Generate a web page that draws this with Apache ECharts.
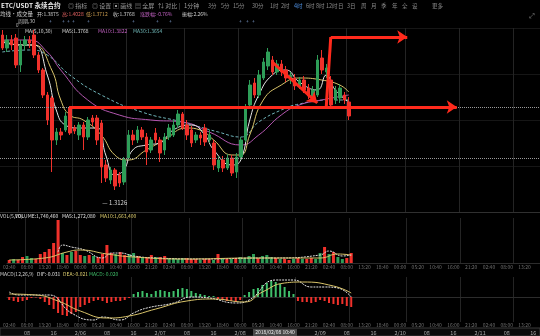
<!DOCTYPE html>
<html><head><meta charset="utf-8">
<script src="https://cdn.jsdelivr.net/npm/echarts/dist/echarts.min.js"></script>
<style>html,body{margin:0;padding:0;background:#000}#c{width:540px;height:336px}</style>
</head><body><div id="c"></div>
<script>
// ---- data ----
// candles: [open, close, low, high]
const candles = [
[177,164,162,182],[164,172,160,177],[172,167,162,177],[174,147,144,178],[147,167,140,172],
[167,172,162,176],[172,169,164,176],[177,157,154,182],[157,142,139,160],[142,117,114,144],
[117,92,87,120],[114,72,40,116],[72,80,67,84],[80,77,72,84],[82,96,80,100],
[104,79,77,106],[84,81,78,87],[77,87,72,90],[87,75,62,90],[75,92,72,95],
[94,90,86,97],[94,72,67,97],[89,45,29,92],[47,34,30,52],[32,42,28,45],
[42,26,22,44],[37,29,25,40],[30,52,27,55],[54,77,52,82],[77,72,67,82],
[72,82,69,86],[82,75,72,85],[75,60,47,79],[62,72,59,75],[79,72,69,84],
[72,59,50,75],[62,75,57,79],[75,84,72,88],[77,87,75,92],[87,98,84,102],
[98,84,82,100],[87,77,72,92],[82,69,65,86],[72,77,69,80],[77,74,67,80],
[84,70,66,88],[72,77,69,82],[69,47,42,72],[44,52,40,56],[52,44,40,56],
[44,54,42,58],[54,39,36,57],[40,55,34,59],[55,72,52,75],[72,104,70,108],
[107,127,104,132],[129,117,114,134],[117,137,114,142],[134,150,132,154],[146,160,142,164],
[152,140,137,156],[140,148,137,152],[148,140,136,152],[142,134,130,146],[132,137,128,140],
[134,126,122,138],[126,132,123,135],[132,122,119,136],[124,116,113,128],[116,122,112,126],
[117,152,115,157],[154,142,138,162],[140,144,134,148],[132,107,104,136],[112,122,108,126],
[114,124,109,128],[117,112,108,120],[110,96,92,115]
];
const volumes = [3,4,3,6,7,5,4,9,11,14, 20,43,10,8,11,12,8,7,8,7, 6,9,18,10,9,11,8,9,10,7,
 6,6,8,6,6,7,5,5,4,5, 5,4,4,3,4,4,3,9,5,4, 4,5,6,5,7,9,5,7,8,6, 5,4,4,3,4,5,4,4,5,4, 10,16,9,11,6,4,5,10];
const macdHist = [-3,-4,-5,-4,-3,-1,-0.5,-2,-5,-8, -12,-16,-18,-19,-17,-15,-10,-8,-6,-4,
 -3,-4,-6,-5,-4,-4,-3,-1,3,5, 6,4,3,6,7,6,5,6,8,9, 8,6,4,3,2,1,1,-2,-3,-4,
 -4,-5,-3,2,5,8,9,12,14,16, 15,13,10,6,3,-4,-5,-5,-6,-5, -3,-4,-6,-7,-8,-7,-9,-10];
// moving-average lines read as [categoryIndex, value]
const maWhite = [[0,170],[4,167],[7,167],[10,137],[12,102],[14,87],[17,84],[21,84],[23,57],[25,37],[27,42],[29,62],[32,67],[35,69],[38,82],[42,87],[45,77],[47,62],[51,47],[53,52],[55,92],[57,117],[60,137],[63,142],[66,130],[70,122],[72,137],[74,122],[77,110]];
const maYellow = [[0,172],[4,167],[7,167],[11,142],[13,112],[15,97],[18,92],[22,77],[25,57],[28,52],[32,62],[36,72],[41,84],[44,82],[47,72],[51,57],[53,57],[55,77],[58,112],[62,127],[66,134],[71,132],[75,127],[77,120]];
const maPurple = [[0,172],[6,172],[10,160],[13,142],[19,112],[26,97],[33,92],[40,90],[46,80],[53,67],[57,77],[62,97],[66,107],[71,112],[77,117]];
const maTeal = [[0,160],[6,162],[10,157],[15,137],[22,117],[31,100],[40,90],[48,80],[53,75],[57,90],[62,102],[66,108],[73,112],[77,112]];
const volMaWhite = [[11,11],[12,18],[14,16],[17,13],[21,5],[23,10],[25,10],[28,7],[33,5],[44,4],[57,5],[60,5],[70,8],[72,12],[75,7],[77,8]];
const volMaYellow = [[0,3],[8,5],[13,11],[16,13],[22,9],[28,6],[40,4],[55,5],[70,5],[74,9],[77,8]];
const difLine = [[0,5],[2,2],[7,2],[9,2],[14,-16],[19,-23],[21,-20],[25,-23],[28,-16],[31,-11],[37,-6],[41,0],[45,-1],[51,-6],[54,-3],[60,17],[64,17],[68,10],[71,10],[74,9],[77,0]];
const deaLine = [[0,3],[6,2],[11,-4],[16,-14],[22,-21],[27,-19],[33,-12],[40,-4],[46,-2],[53,-5],[57,5],[62,14],[66,15],[73,11],[77,4]];
// reference levels and drawn arrows (category index, price)
const levels = [105, 54];
const arrows = [[[15,105],[101,105]],[[60,150],[70,109]],[[73,175],[90,175]]];
const strokes = [[[72,105],[73,175]]];
const lowMark = {index: 25, price: 22, text: '— 1.3126'};
// tick labels
const midTicks = ['02:40','08:00','13:20','18:40','00:00','05:20','10:40','16:00','21:20','02:40','08:00','13:20','18:40','00:00','05:20','10:40','16:00','21:20','02:40','08:00','13:20','18:40','00:00','05:20','10:40','16:00','21:20','02:40','08:00','13:20'];
const bottomTicks = ['08','16','2/06','08','16','2/07','08','16','2/08','08','16','2/09','08','16','2/10','08','16','2/11','08','16'];
const NCAT = 120;
const categories = Array.from({length: NCAT}, (_, i) => 'k' + i);

// ---- chart ----
const UP = '#2e9e58', DOWN = '#f0312b';
const F = '"Noto Sans CJK SC","Noto Sans",sans-serif';
const gridIdx = [4,16,28,41,53,65,77,90,102,114];
const vSplit = {show: true, interval: (i) => gridIdx.indexOf(i) >= 0, lineStyle: {color: '#242424', width: 1}};
function T(x, y, text, fill, size, weight) {
  return {type: 'text', x: x, y: y, z: 100, style: {text: text, fill: fill, font: (weight || 'normal') + ' ' + (size || 6) + 'px ' + F, verticalAlign: 'middle', textVerticalAlign: 'middle', align: 'left'}};
}
const graphics = [
  {type: 'rect', z: -10, shape: {x: 0, y: 328, width: 540, height: 8}, style: {fill: '#0b0b0b', stroke: '#3a3a3a', lineWidth: 1}},
  T(1, 6, 'ETC/USDT 永续合约', '#ececec', 6.5, 'bold'),
  T(57, 6, 'P', '#9a9a9a', 6), T(68, 6, '◎ 指标', '#9a9a9a', 6), T(92, 6, '◎ 设置', '#9a9a9a', 6),
  T(113, 6, '▣ 画线', '#9a9a9a', 6), T(135, 6, '▤ 全屏', '#9a9a9a', 6), T(158, 6, '⇅ 对比', '#9a9a9a', 6),
  T(179, 6, '|', '#777', 6), T(184, 6, '1分钟', '#9a9a9a', 6),
  T(208, 6, '3分', '#8a8a8a', 5.5), T(221, 6, '5分', '#8a8a8a', 5.5), T(233, 6, '15分', '#8a8a8a', 5.5),
  T(252, 6, '30分', '#8a8a8a', 5.5), T(270, 6, '1时', '#8a8a8a', 5.5), T(281, 6, '2时', '#8a8a8a', 5.5),
  T(294, 6, '4时', '#4d8fe0', 5.5), T(306, 6, '6时', '#8a8a8a', 5.5), T(316, 6, '8时', '#8a8a8a', 5.5),
  T(326, 6, '12时', '#8a8a8a', 5.5), T(338, 6, '日', '#8a8a8a', 5.5), T(347, 6, '3日', '#8a8a8a', 5.5),
  T(361, 6, '周', '#8a8a8a', 5.5), T(371, 6, '月', '#8a8a8a', 5.5), T(381, 6, '季', '#8a8a8a', 5.5),
  T(392, 6, '年', '#8a8a8a', 5.5), T(402, 6, '全', '#8a8a8a', 5.5), T(412, 6, '设', '#8a8a8a', 5.5),
  T(432, 6, '更多', '#8a8a8a', 5.5), T(529, 15, '⤢', '#888', 7),
  T(0, 14, '均线·成交量', '#cfcfcf', 5.5), T(37, 14, '开:1.3875', '#cfcfcf', 5),
  T(62, 14, '高:1.4028', '#e06060', 5), T(86, 14, '低:1.3712', '#d0a050', 5),
  T(113, 14, '收:1.3768', '#cfcfcf', 5), T(140, 14, '涨跌幅:-0.76%', '#c060c0', 5),
  T(182, 14, '振幅:2.26%', '#cfcfcf', 5),
  T(18, 21, '周期,30', '#bbbbbb', 5), T(16, 25.5, '0', '#bbbbbb', 4.5),
  T(49, 21, '+', '#7f9fd0', 5), T(62, 21, '+', '#7f9fd0', 5), T(67, 21, '+', '#7f9fd0', 5), T(72, 21, '+', '#7f9fd0', 5),
  T(87, 21, '+', '#7f9fd0', 5), T(132, 21, '+', '#7f9fd0', 5), T(156, 21, '+', '#7f9fd0', 5), T(169, 21, '+', '#7f9fd0', 5),
  T(239, 21, '+', '#7f9fd0', 5), T(246, 21, '+', '#7f9fd0', 5), T(252, 21, '+', '#7f9fd0', 5),
  T(25, 31, 'MA(5,10,30)', '#d8d8d8', 5), T(62, 31, 'MA5:1.3768', '#d8d8d8', 5),
  T(98, 31, 'MA10:1.3822', '#c060c0', 5), T(133, 31, 'MA30:1.3654', '#70b8b8', 5),
  T(0, 216, 'VOL(5,10)', '#cfcfcf', 5), T(15, 216, 'VOLUME:1,740,460', '#e0e0e0', 5),
  T(62, 216, 'MA5:1,272,080', '#e0e0e0', 5), T(100, 216, 'MA10:1,663,400', '#e0d070', 5),
  T(0, 274, 'MACD(12,26,9)', '#cfcfcf', 5), T(37, 274, 'DIF:-0.031', '#e0e0e0', 5),
  T(63, 274, 'DEA:-0.021', '#e0d070', 5), T(89, 274, 'MACD:-0.020', '#3fbf6a', 5),
  {type: 'rect', z: 100, shape: {x: 253, y: 329, width: 44, height: 7}, style: {fill: '#4a4a4a'}},
  {type: 'text', z: 101, x: 275, y: 332.5, style: {text: '2018/02/08 10:40', fill: '#f0f0f0', font: '5px ' + F, align: 'center', verticalAlign: 'middle', textVerticalAlign: 'middle'}}
];

const chart = echarts.init(document.getElementById('c'), null, {renderer: 'canvas'});
const hidden = {axisLine: {show: false}, axisTick: {show: false}, axisLabel: {show: false}};
const option = {
  backgroundColor: '#000',
  animation: false,
  graphic: graphics,
  grid: [
    {left: 0, right: 0, top: 28, height: 184},
    {left: 0, right: 0, top: 218, height: 45},
    {left: 0, right: 0, top: 277, height: 45}
  ],
  xAxis: [
    {type: 'category', gridIndex: 0, position: 'bottom', data: categories, boundaryGap: true, axisLine: {show: true, lineStyle: {color: '#303030'}}, axisTick: {show: false}, axisLabel: {show: false}, splitLine: vSplit},
    {type: 'category', gridIndex: 1, position: 'bottom', data: categories, boundaryGap: true, axisLine: {show: true, lineStyle: {color: '#2c2c2c'}}, axisTick: {show: false}, splitLine: vSplit,
     axisLabel: {show: true, interval: 3, margin: 2, fontSize: 5, color: '#6e6e6e', fontFamily: F, formatter: (v, i) => midTicks[i / 4] || ''}},
    {type: 'category', gridIndex: 2, position: 'bottom', offset: 0, data: categories, boundaryGap: true, axisLine: {show: true, lineStyle: {color: '#2c2c2c'}}, axisTick: {show: false}, splitLine: vSplit,
     axisLabel: {show: true, interval: 3, margin: 1, fontSize: 5, color: '#6e6e6e', fontFamily: F, formatter: (v, i) => midTicks[i / 4] || ''}},
    {type: 'category', gridIndex: 2, position: 'bottom', offset: 6, data: categories, boundaryGap: true, axisLine: {show: false}, axisTick: {show: false}, splitLine: {show: false},
     axisLabel: {show: true, interval: (i) => i % 6 === 4, margin: 2, fontSize: 5.5, color: '#a8a8a8', fontFamily: F, formatter: (v, i) => bottomTicks[(i - 4) / 6] || ''}}
  ],
  yAxis: [
    Object.assign({type: 'value', gridIndex: 0, min: 0, max: 184, interval: 46, splitLine: {show: true, lineStyle: {color: '#161616'}}}, hidden),
    Object.assign({type: 'value', gridIndex: 1, min: 0, max: 45, splitLine: {show: false}}, hidden),
    Object.assign({type: 'value', gridIndex: 2, min: -25, max: 20, splitLine: {show: false}}, hidden)
  ],
  series: [
    {type: 'line', xAxisIndex: 0, yAxisIndex: 0, data: maTeal, showSymbol: false, smooth: true, lineStyle: {color: '#6fb3b8', width: 1, type: [3, 2]}, z: 3,
     markLine: {silent: true, symbol: 'none', label: {show: false}, lineStyle: {color: '#9a9a9a', type: 'dotted', width: 1}, data: levels.map(v => ({yAxis: v}))}},
    {type: 'line', xAxisIndex: 0, yAxisIndex: 0, data: maPurple, showSymbol: false, smooth: true, lineStyle: {color: '#b457b0', width: 1}, z: 3},
    {type: 'line', xAxisIndex: 0, yAxisIndex: 0, data: maYellow, showSymbol: false, smooth: true, lineStyle: {color: '#d9c46a', width: 1}, z: 3},
    {type: 'line', xAxisIndex: 0, yAxisIndex: 0, data: maWhite, showSymbol: false, smooth: true, lineStyle: {color: '#e6e6e6', width: 1}, z: 3},
    {type: 'candlestick', xAxisIndex: 0, yAxisIndex: 0, data: candles, barWidth: 3, z: 4,
     itemStyle: {color: UP, color0: DOWN, borderColor: UP, borderColor0: DOWN, borderWidth: 1},
     markLine: {silent: true, symbol: ['none', 'arrow'], symbolSize: 10, label: {show: false}, z: 10,
       lineStyle: {color: '#ff2a1c', width: 3, type: 'solid'},
       data: arrows.map(a => [{coord: a[0]}, {coord: a[1]}]).concat(
             strokes.map(a => [{coord: a[0], symbol: 'none'}, {coord: a[1], symbol: 'none'}]))},
     markPoint: {silent: true, symbol: 'circle', symbolSize: 0,
       label: {show: true, position: 'inside', offset: [0, 13], formatter: () => lowMark.text, color: '#d8d8d8', fontSize: 6, fontFamily: F},
       data: [{coord: [lowMark.index, lowMark.price]}]}},
    {type: 'bar', xAxisIndex: 1, yAxisIndex: 1, data: volumes, barWidth: 3,
     itemStyle: {color: (p) => candles[p.dataIndex][1] >= candles[p.dataIndex][0] ? UP : DOWN}},
    {type: 'line', xAxisIndex: 1, yAxisIndex: 1, data: volMaWhite, showSymbol: false, smooth: true, lineStyle: {color: '#dedede', width: 1, type: [2, 1]}},
    {type: 'line', xAxisIndex: 1, yAxisIndex: 1, data: volMaYellow, showSymbol: false, smooth: true, lineStyle: {color: '#d9c46a', width: 1}},
    {type: 'bar', xAxisIndex: 2, yAxisIndex: 2, data: macdHist, barWidth: 2,
     itemStyle: {color: (p) => p.value >= 0 ? '#3fbf6a' : DOWN}},
    {type: 'line', xAxisIndex: 2, yAxisIndex: 2, data: difLine, showSymbol: false, smooth: true, lineStyle: {color: '#e6e6e6', width: 1, type: [2, 1]}},
    {type: 'line', xAxisIndex: 2, yAxisIndex: 2, data: deaLine, showSymbol: false, smooth: true, lineStyle: {color: '#d9c46a', width: 1}}
  ]
};
chart.setOption(option);
</script>
</body></html>
